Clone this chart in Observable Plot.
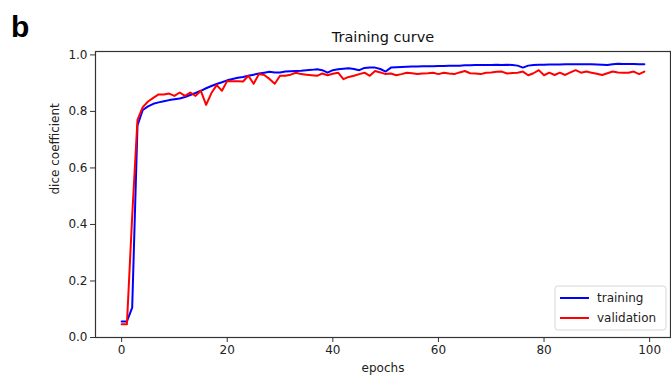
<!DOCTYPE html>
<html>
<head>
<meta charset="utf-8">
<script src="https://cdn.jsdelivr.net/npm/d3@7"></script>
<script src="https://cdn.jsdelivr.net/npm/@observablehq/plot@0.6"></script>
<style>
  html, body { margin: 0; padding: 0; background: #fff; }
  #chart { width: 671px; height: 379px; }
</style>
</head>
<body>
<div id="chart"></div>
<script>
const epochs = d3.range(0, 100);
const training = [
  0.057, 0.057, 0.106, 0.750, 0.805, 0.818, 0.827, 0.832, 0.836, 0.840,
  0.843, 0.846, 0.851, 0.858, 0.865, 0.873, 0.882, 0.890, 0.897, 0.903,
  0.910, 0.915, 0.919, 0.922, 0.926, 0.930, 0.934, 0.937, 0.940, 0.938,
  0.938, 0.941, 0.942, 0.943, 0.944, 0.946, 0.947, 0.949, 0.946, 0.937,
  0.946, 0.949, 0.951, 0.953, 0.950, 0.946, 0.954, 0.955, 0.955, 0.950,
  0.941, 0.955, 0.956, 0.957, 0.958, 0.959, 0.959, 0.960, 0.960, 0.960,
  0.961, 0.961, 0.962, 0.962, 0.962, 0.963, 0.963, 0.964, 0.964, 0.964,
  0.964, 0.965, 0.964, 0.965, 0.964, 0.962, 0.955, 0.962, 0.964, 0.965,
  0.965, 0.966, 0.966, 0.966, 0.967, 0.967, 0.967, 0.967, 0.967, 0.967,
  0.966, 0.965, 0.964, 0.967, 0.969, 0.968, 0.968, 0.968, 0.967, 0.967
];
const validation = [
  0.047, 0.047, 0.430, 0.770, 0.815, 0.835, 0.848, 0.860, 0.860, 0.863,
  0.855, 0.867, 0.855, 0.867, 0.855, 0.873, 0.823, 0.865, 0.893, 0.873,
  0.908, 0.907, 0.907, 0.906, 0.926, 0.898, 0.932, 0.929, 0.915, 0.898,
  0.926, 0.926, 0.930, 0.937, 0.932, 0.930, 0.928, 0.926, 0.934, 0.928,
  0.933, 0.937, 0.914, 0.922, 0.926, 0.932, 0.937, 0.926, 0.943, 0.938,
  0.932, 0.934, 0.928, 0.932, 0.937, 0.935, 0.932, 0.934, 0.935, 0.937,
  0.932, 0.937, 0.934, 0.932, 0.938, 0.943, 0.935, 0.934, 0.932, 0.937,
  0.938, 0.940, 0.941, 0.934, 0.936, 0.937, 0.941, 0.928, 0.935, 0.946,
  0.928, 0.937, 0.929, 0.937, 0.929, 0.938, 0.946, 0.937, 0.941, 0.937,
  0.933, 0.929, 0.935, 0.941, 0.938, 0.937, 0.937, 0.941, 0.932, 0.941
];
const xTicks = [0, 20, 40, 60, 80, 100];
const yTicks = [0.0, 0.2, 0.4, 0.6, 0.8, 1.0];
const seriesNames = ["training", "validation"];
const seriesColors = ["#0000ff", "#ff0000"];
const titleText = "Training curve";
const panelLabel = "b";

const rows = [];
epochs.forEach((e, i) => {
  rows.push({epoch: e, value: training[i], series: seriesNames[0]});
  rows.push({epoch: e, value: validation[i], series: seriesNames[1]});
});

const font = "'DejaVu Sans', sans-serif";
const plot = Plot.plot({
  width: 671,
  height: 379,
  marginLeft: 95,
  marginRight: 1,
  marginTop: 51,
  marginBottom: 42,
  style: {fontFamily: font, fontSize: "12px", color: "#222", background: "#fff"},
  x: {domain: [-4.95, 103.95], ticks: xTicks, tickFormat: d => String(d)},
  y: {domain: [0, 1.012], ticks: yTicks, tickFormat: d => d.toFixed(1)},
  color: {domain: seriesNames, range: seriesColors},
  marks: [
    Plot.line(rows, {x: "epoch", y: "value", z: "series", stroke: "series", strokeWidth: 2, strokeLinejoin: "round"}),
    Plot.frame({stroke: "#333", strokeWidth: 1.2}),
    Plot.axisX({ticks: xTicks, tickSize: 5, tickPadding: 3, stroke: "#333", fontSize: 12, label: null}),
    Plot.axisY({ticks: yTicks, tickSize: 5, tickPadding: 3, stroke: "#333", fontSize: 12, label: null, tickFormat: d => d.toFixed(1)}),
    Plot.text([titleText], {frameAnchor: "top", dy: -10, text: d => d, fontSize: 14.5, fill: "#111", textAnchor: "middle", lineAnchor: "bottom"}),
    Plot.text(["epochs"], {frameAnchor: "bottom", dy: 34, text: d => d, fontSize: 12, fill: "#222", lineAnchor: "bottom"}),
    Plot.text(["dice coefficient"], {frameAnchor: "left", dx: -40, rotate: -90, text: d => d, fontSize: 12, fill: "#222"})
  ]
});

const svg = d3.select(plot);
svg.append("text")
  .attr("x", 11).attr("y", 37)
  .attr("text-anchor", "start")
  .attr("font-family", "'Liberation Sans', Arial, sans-serif")
  .attr("font-weight", "bold")
  .attr("font-size", 30)
  .attr("fill", "#000")
  .text(panelLabel);

const lg = svg.append("g").attr("transform", "translate(555,286)");
lg.append("rect").attr("x", 0).attr("y", 0).attr("width", 111).attr("height", 44)
  .attr("rx", 3).attr("fill", "#fff").attr("fill-opacity", 0.9)
  .attr("stroke", "#d6d6d6").attr("stroke-width", 1);
seriesNames.forEach((name, i) => {
  const yy = 12 + i * 20;
  lg.append("line").attr("x1", 5).attr("x2", 34).attr("y1", yy).attr("y2", yy)
    .attr("stroke", seriesColors[i]).attr("stroke-width", 2);
  lg.append("text").attr("x", 42).attr("y", yy).attr("dy", "0.35em")
    .attr("text-anchor", "start")
    .attr("font-family", font).attr("font-size", 12).attr("fill", "#222").text(name);
});

document.getElementById("chart").appendChild(plot);
</script>
</body>
</html>
